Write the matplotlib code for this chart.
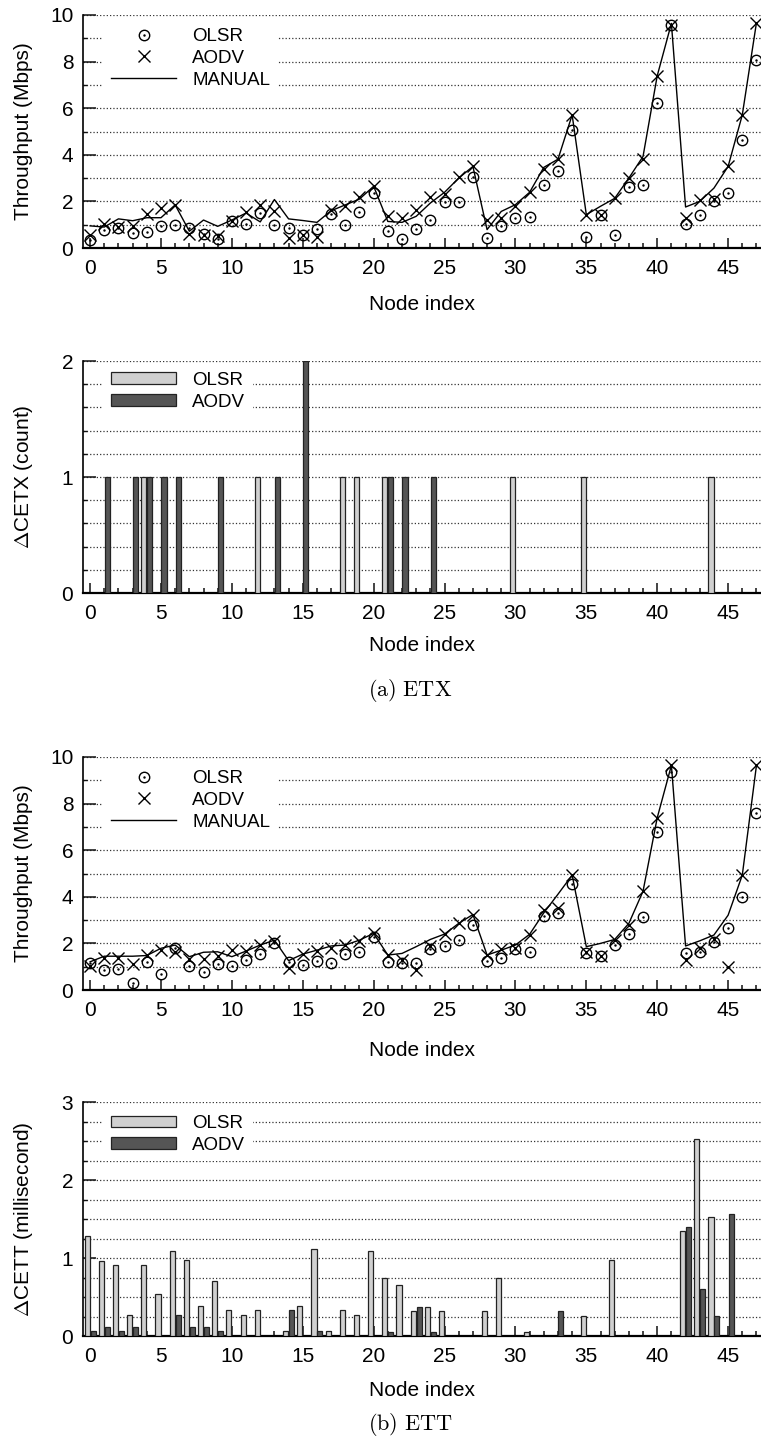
import matplotlib
matplotlib.use("Agg")
import matplotlib.pyplot as plt
from matplotlib.ticker import MultipleLocator
from matplotlib.lines import Line2D
from matplotlib.patches import Patch

plt.rcParams['font.family'] = ['Liberation Sans', 'DejaVu Sans']
plt.rcParams['mathtext.fontset'] = 'cm'

nodes = list(range(48))

# throughput with ETX metric (Mbps)
etx_olsr = [0.33, 0.79, 0.85, 0.64, 0.70, 0.93, 0.98, 0.84, 0.60, 0.39,
            1.16, 1.05, 1.50, 0.97, 0.86, 0.57, 0.80, 1.45, 1.00, 1.55,
            2.38, 0.71, 0.40, 0.83, 1.19, 1.97, 1.97, 3.03, 0.43, 0.96,
            1.27, 1.33, 2.70, 3.29, 5.07, 0.46, 1.43, 0.57, 2.60, 2.69,
            6.21, 9.57, 1.04, 1.43, 2.00, 2.36, 4.64, 8.07]
etx_aodv = [0.55, 1.02, 0.88, 0.96, 1.45, 1.70, 1.86, 0.62, 0.57, 0.53,
            1.14, 1.53, 1.84, 1.57, 0.43, 0.57, 0.47, 1.64, 1.81, 2.17,
            2.68, 1.36, 1.29, 1.61, 2.21, 2.33, 3.03, 3.50, 1.21, 1.29,
            1.79, 2.39, 3.39, 3.81, 5.71, 1.43, 1.43, 2.13, 3.00, 3.81,
            7.39, 9.57, 1.29, 2.04, 2.11, 3.50, 5.71, 9.67]
etx_manual = [0.95, 0.90, 1.25, 1.17, 1.30, 1.30, 1.85, 0.72, 1.20, 0.93,
              1.20, 1.50, 1.12, 2.08, 1.25, 1.18, 1.10, 1.60, 1.85, 2.10,
              2.65, 1.14, 1.10, 1.36, 1.93, 2.39, 3.00, 3.50, 0.79, 1.57,
              1.86, 2.39, 3.46, 3.81, 5.71, 1.43, 1.79, 2.13, 3.00, 3.93,
              7.39, 9.64, 1.76, 2.00, 2.57, 3.50, 5.71, 9.67]

# delta CETX per node (count)
dcetx_olsr = [0, 0, 0, 0, 1, 0, 0, 0, 0, 0,
              0, 0, 1, 0, 0, 0, 0, 0, 1, 1,
              0, 1, 0, 0, 0, 0, 0, 0, 0, 0,
              1, 0, 0, 0, 0, 1, 0, 0, 0, 0,
              0, 0, 0, 0, 1, 0, 0, 0]
dcetx_aodv = [0, 1, 0, 1, 1, 1, 1, 0, 0, 1,
              0, 0, 0, 1, 0, 2, 0, 0, 0, 0,
              0, 1, 1, 0, 1, 0, 0, 0, 0, 0,
              0, 0, 0, 0, 0, 0, 0, 0, 0, 0,
              0, 0, 0, 0, 0, 0, 0, 0]

# throughput with ETT metric (Mbps)
ett_olsr = [1.14, 0.86, 0.90, 0.29, 1.21, 0.69, 1.81, 1.03, 0.79, 1.10,
            1.04, 1.29, 1.54, 2.03, 1.19, 1.07, 1.26, 1.17, 1.54, 1.64,
            2.27, 1.21, 1.14, 1.17, 1.74, 1.90, 2.14, 2.81, 1.24, 1.36,
            1.74, 1.61, 3.17, 3.31, 4.57, 1.60, 1.46, 1.93, 2.40, 3.14,
            6.79, 9.36, 1.57, 1.61, 2.07, 2.64, 4.00, 7.60]
ett_aodv = [1.03, 1.36, 1.36, 1.11, 1.50, 1.71, 1.65, 1.33, 1.31, 1.47,
            1.73, 1.69, 1.93, 2.12, 0.93, 1.55, 1.66, 1.79, 1.92, 2.12,
            2.43, 1.50, 1.29, 0.86, 1.89, 2.40, 2.86, 3.24, 1.50, 1.74,
            1.79, 2.36, 3.43, 3.50, 4.93, 1.61, 1.46, 2.14, 2.79, 4.24,
            7.39, 9.64, 1.29, 1.79, 2.21, 1.00, 4.93, 9.64]
ett_manual = [1.21, 1.45, 1.45, 1.45, 1.48, 1.79, 1.93, 1.43, 1.62, 1.64,
              1.43, 1.67, 1.93, 2.14, 1.26, 1.54, 1.71, 1.89, 1.93, 2.14,
              2.43, 1.50, 1.57, 1.86, 2.17, 2.40, 2.86, 3.24, 1.50, 1.71,
              1.93, 2.39, 3.31, 4.11, 4.93, 1.86, 2.00, 2.17, 2.86, 4.24,
              7.39, 9.64, 1.89, 2.11, 2.36, 3.21, 4.93, 9.64]

# delta CETT per node (millisecond)
dcett_olsr = [1.28, 0.96, 0.91, 0.27, 0.91, 0.54, 1.09, 0.97, 0.38, 0.70,
              0.33, 0.27, 0.33, 0.00, 0.06, 0.38, 1.12, 0.06, 0.33, 0.27,
              1.09, 0.74, 0.65, 0.32, 0.37, 0.32, 0.00, 0.00, 0.32, 0.74,
              0.00, 0.05, 0.00, 0.00, 0.00, 0.26, 0.00, 0.98, 0.00, 0.00,
              0.00, 0.00, 1.34, 2.52, 1.53, 0.00, 0.00, 0.00]
dcett_aodv = [0.06, 0.12, 0.06, 0.12, 0.00, 0.00, 0.27, 0.12, 0.12, 0.06,
              0.00, 0.00, 0.00, 0.00, 0.33, 0.00, 0.06, 0.00, 0.00, 0.00,
              0.00, 0.05, 0.00, 0.37, 0.05, 0.00, 0.00, 0.00, 0.00, 0.00,
              0.00, 0.00, 0.00, 0.32, 0.00, 0.00, 0.00, 0.00, 0.00, 0.00,
              0.00, 0.00, 1.40, 0.60, 0.26, 1.57, 0.00, 0.00]

LIGHT = '#d0d0d0'
DARK = '#555555'
FS = 15
LEG_FS = 13.5

W, H = 761, 1447
fig = plt.figure(figsize=(W / 100, H / 100), dpi=100)


def make_axes(top_px, bottom_px):
    left = 83
    return fig.add_axes([left / W, 1 - bottom_px / H,
                         (W - left) / W, (bottom_px - top_px) / H])


def style(ax, ymax, ymajor, yminor, xlabel_px, top_px, bottom_px):
    ax.set_xlim(-0.5, 47.32)
    ax.set_ylim(0, ymax)
    ax.xaxis.set_major_locator(MultipleLocator(5))
    ax.xaxis.set_minor_locator(MultipleLocator(1))
    ax.yaxis.set_major_locator(MultipleLocator(ymajor))
    ax.yaxis.set_minor_locator(MultipleLocator(yminor))
    ax.spines['top'].set_visible(False)
    ax.spines['right'].set_visible(False)
    ax.spines['bottom'].set_linewidth(1.6)
    ax.spines['left'].set_linewidth(1.2)
    ax.tick_params(which='both', direction='in', labelsize=FS, color='#111111')
    ax.tick_params(axis='x', which='major', length=7, width=1.1, pad=8)
    ax.tick_params(axis='x', which='minor', length=3.5, width=1.1)
    ax.tick_params(axis='y', which='major', length=9, width=1.1, pad=7)
    ax.tick_params(axis='y', which='minor', length=3, width=1.0)
    ax.grid(axis='y', which='both', linestyle=':', linewidth=0.9, color='#333333')
    ax.set_axisbelow(True)
    ax.set_xlabel('Node index', fontsize=FS)
    ax.xaxis.label.set_va('center')
    h = bottom_px - top_px
    ax.xaxis.set_label_coords(0.5, -(xlabel_px - bottom_px) / h)
    ax.yaxis.label.set_va('center')
    ax.yaxis.set_label_coords((24 - 83) / (W - 83), 0.5)


def throughput(ax, olsr, aodv, manual):
    ax.plot(nodes, manual, color='black', linewidth=1.0, zorder=3)
    ax.plot(nodes, aodv, linestyle='none', marker='x', markersize=8,
            markeredgewidth=1.0, color='black', zorder=4)
    ax.plot(nodes, olsr, linestyle='none', marker='o', markersize=7.5,
            markerfacecolor='none', markeredgewidth=1.0,
            markeredgecolor='black', zorder=4)
    ax.plot(nodes, olsr, linestyle='none', marker='.', markersize=1.5,
            color='black', zorder=4)
    ax.set_ylabel('Throughput (Mbps)', fontsize=FS)
    circ = (Line2D([], [], linestyle='none', marker='o', markersize=7.5,
                   markerfacecolor='none', markeredgecolor='black',
                   markeredgewidth=1.0),
            Line2D([], [], linestyle='none', marker='.', markersize=1.5,
                   color='black'))
    cross = Line2D([], [], linestyle='none', marker='x', markersize=8,
                   markeredgewidth=1.0, color='black')
    line = Line2D([], [], color='black', linewidth=1.0)
    leg = ax.legend([circ, cross, line], ['OLSR', 'AODV', 'MANUAL'],
                    loc='upper left', bbox_to_anchor=(0.030, 0.976),
                    borderaxespad=0, borderpad=0.4, fontsize=LEG_FS,
                    handlelength=3.5, handletextpad=0.85, labelspacing=0.25,
                    frameon=True, fancybox=False, framealpha=1,
                    edgecolor='none', facecolor='white')
    leg.set_zorder(5)


def deltas(ax, olsr, aodv, ylabel, legend_y):
    # only nodes with a non-zero change get a bar
    o_x = [n - 0.21 for n, v in zip(nodes, olsr) if v > 0]
    o_v = [v for v in olsr if v > 0]
    a_x = [n + 0.21 for n, v in zip(nodes, aodv) if v > 0]
    a_v = [v for v in aodv if v > 0]
    ax.bar(o_x, o_v, width=0.36, color=LIGHT, edgecolor='#222222',
           linewidth=0.9, zorder=3)
    ax.bar(a_x, a_v, width=0.36, color=DARK, edgecolor='#222222',
           linewidth=0.9, zorder=3)
    ax.set_ylabel(ylabel, fontsize=FS)
    handles = [Patch(facecolor=LIGHT, edgecolor='#222222', linewidth=0.9),
               Patch(facecolor=DARK, edgecolor='#222222', linewidth=0.9)]
    leg = ax.legend(handles, ['OLSR', 'AODV'], loc='upper left',
                    bbox_to_anchor=(0.030, legend_y), borderaxespad=0,
                    borderpad=0.4, fontsize=LEG_FS, handlelength=3.5,
                    handleheight=0.6, handletextpad=0.85, labelspacing=0.25,
                    frameon=True, fancybox=False, framealpha=1,
                    edgecolor='none', facecolor='white')
    leg.set_zorder(5)


# (a) ETX
ax1 = make_axes(15, 248)
throughput(ax1, etx_olsr, etx_aodv, etx_manual)
style(ax1, 10, 2, 1, 305, 15, 248)

ax2 = make_axes(361, 593)
deltas(ax2, dcetx_olsr, dcetx_aodv, r'$\Delta$CETX (count)', 0.985)
style(ax2, 2, 1, 0.2, 645, 361, 593)

fig.text(410 / W, 1 - 690 / H, r'$\mathrm{(a)\ ETX}$', fontsize=16,
         ha='center', va='center')

# (b) ETT
ax3 = make_axes(757, 990)
throughput(ax3, ett_olsr, ett_aodv, ett_manual)
style(ax3, 10, 2, 1, 1050, 757, 990)

ax4 = make_axes(1102, 1336)
deltas(ax4, dcett_olsr, dcett_aodv, r'$\Delta$CETT (millisecond)', 0.976)
style(ax4, 3, 1, 0.25, 1390, 1102, 1336)

fig.text(410 / W, 1 - 1425 / H, r'$\mathrm{(b)\ ETT}$', fontsize=16,
         ha='center', va='center')

fig.savefig('out.png', dpi=100)
